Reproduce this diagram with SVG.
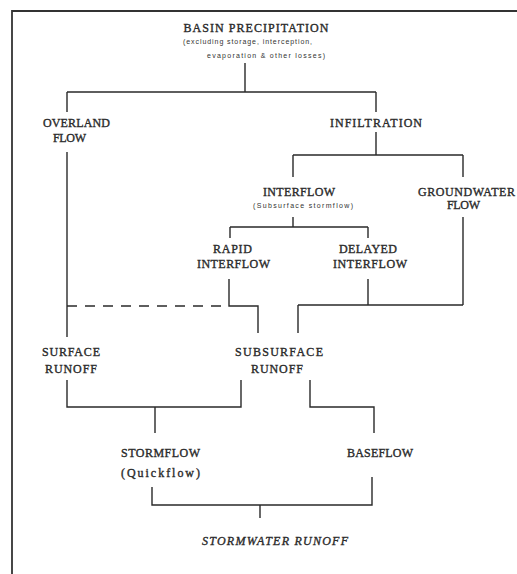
<svg xmlns="http://www.w3.org/2000/svg" width="517" height="574" viewBox="0 0 517 574">
<style>
.ln{fill:none;stroke:#2a2a2a;stroke-width:1.4}
.dash{fill:none;stroke:#2a2a2a;stroke-width:1.4;stroke-dasharray:10 8}
.frame{fill:none;stroke:#333;stroke-width:1.8}
.t{font-family:"Liberation Serif","DejaVu Serif",serif;font-size:12px;fill:#2a2a2a;stroke:#2a2a2a;stroke-width:0.35;text-anchor:middle}
.s{font-family:"Liberation Sans","DejaVu Sans",sans-serif;font-size:7px;fill:#333}
.i{font-style:italic}
</style>
<rect width="517" height="574" fill="#fff"/>
<path class="frame" d="M12 574 V11 H517"/>
<g id="connectors">
<path class="ln" d="M245 63 V92 M67 92 H376 M67 92 V112 M376 92 V112"/>
<path class="ln" d="M376 132 V155 M293 155 H463 M293 155 V177 M463 155 V177"/>
<path class="ln" d="M293 217 V227 M230 227 H368 M230 227 V238 M368 227 V238"/>
<path class="ln" d="M67 152 V337"/>
<path class="ln" d="M229 279 V306 H258 V333"/>
<path class="dash" d="M67 306 H227"/>
<path class="ln" d="M368 279 V305 M463 217 V305 M298 305 H463 M298 305 V333"/>
<path class="ln" d="M67 380 V407 H241 V380 M155 407 V433"/>
<path class="ln" d="M310 380 V407 H374 V433"/>
<path class="ln" d="M152 487 V505 H372 V477 M260 505 V518"/>
</g>
<g id="basin">
<text class="t" x="256" y="32" textLength="145">BASIN PRECIPITATION</text>
<text class="s" x="183" y="44" textLength="129">(excluding storage, interception,</text>
<text class="s" x="207" y="58" textLength="118">evaporation &amp; other losses)</text>
</g>
<g id="overland"><text class="t" x="76.5" y="127" textLength="67">OVERLAND</text><text class="t" x="69.5" y="142" textLength="33">FLOW</text></g>
<g id="infiltration"><text class="t" x="376" y="127" textLength="92">INFILTRATION</text></g>
<g id="interflow"><text class="t" x="299" y="196" textLength="72">INTERFLOW</text><text class="s" x="253" y="208" textLength="100">(Subsurface stormflow)</text></g>
<g id="groundwater"><text class="t" x="466.5" y="196" textLength="97">GROUNDWATER</text><text class="t" x="463.5" y="209" textLength="33">FLOW</text></g>
<g id="rapid"><text class="t" x="232.5" y="253" textLength="39">RAPID</text><text class="t" x="233.5" y="268" textLength="73">INTERFLOW</text></g>
<g id="delayed"><text class="t" x="368" y="253" textLength="58">DELAYED</text><text class="t" x="370" y="268" textLength="74">INTERFLOW</text></g>
<g id="surface"><text class="t" x="71" y="356" textLength="58">SURFACE</text><text class="t" x="71" y="373" textLength="52">RUNOFF</text></g>
<g id="subsurface"><text class="t" x="279" y="356" textLength="88">SUBSURFACE</text><text class="t" x="277" y="373" textLength="52">RUNOFF</text></g>
<g id="stormflow"><text class="t" x="160.5" y="457" textLength="79">STORMFLOW</text><text class="t" x="160.5" y="477" textLength="79">(Quickflow)</text></g>
<g id="baseflow"><text class="t" x="380" y="457" textLength="66">BASEFLOW</text></g>
<g id="stormwater"><text class="t i" x="275" y="545" textLength="146">STORMWATER RUNOFF</text></g>
</svg>
